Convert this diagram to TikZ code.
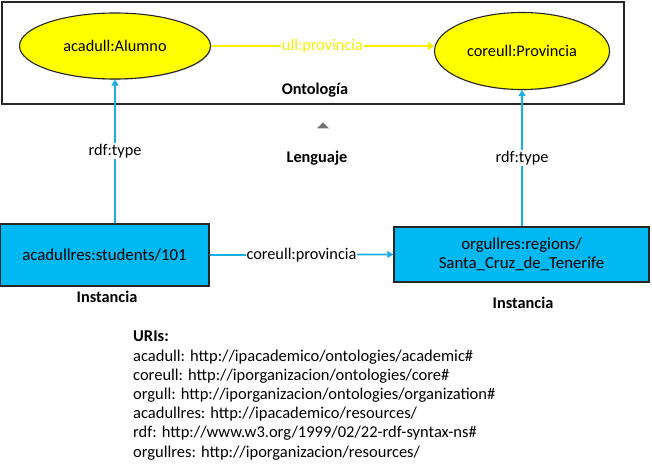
\documentclass[tikz,border=0pt]{standalone}
\usepackage{fontspec}
\setmainfont{Carlito}
\usetikzlibrary{arrows.meta,shapes.geometric,shadows}
\definecolor{cyanbox}{HTML}{00B8F2}
\definecolor{cyanline}{HTML}{1AAEE6}
\definecolor{yel}{HTML}{FFFF00}
\definecolor{yelline}{HTML}{F4F000}
\tikzset{
  classnode/.style={ellipse, draw=black!85, line width=1.1pt, fill=yel, font=\fontsize{16.3}{18}\selectfont,
    drop shadow={shadow xshift=0.8pt, shadow yshift=-0.8pt, opacity=0.45}, inner sep=0pt},
  instnode/.style={rectangle, draw=black!85, line width=1.5pt, fill=cyanbox, font=\fontsize{16.8}{18.5}\selectfont,
    align=center, drop shadow={shadow xshift=0.8pt, shadow yshift=-0.8pt, opacity=0.45}, inner sep=0pt},
  cyanarrow/.style={draw=cyanline, line width=1.7pt, -{Triangle[width=7pt,length=6pt]}},
  yelarrow/.style={draw=yelline, line width=1.6pt, -{Triangle[width=8pt,length=6pt]}},
  edgelabel/.style={fill=white, inner sep=1pt, font=\fontsize{16.3}{18}\selectfont},
  title/.style={font=\bfseries\fontsize{16.3}{18}\selectfont},
  uritext/.style={font=\fontsize{16.5}{19.2}\selectfont, align=left, anchor=north west, inner sep=0pt},
}
\begin{document}
\begin{tikzpicture}[x=1pt,y=-1pt]
\useasboundingbox (0,0) rectangle (652,473);
% ontology frame
\node[draw=black!85, line width=1.6pt, minimum width=622pt, minimum height=102pt, inner sep=0pt,
  drop shadow={shadow xshift=0.8pt, shadow yshift=-0.8pt, opacity=0.4}, fill=white] (onto) at (313,53) {};
\node[classnode, minimum width=191pt, minimum height=66pt] (alumno) at (115,46) {acadull:Alumno};
\node[classnode, minimum width=175pt, minimum height=77pt] (prov) at (522,51) {coreull:Provincia};
\node[title] (ontolabel) at (315,90) {Ontología};
% instances
\node[instnode, minimum width=209pt, minimum height=62pt] (student) at (104.5,255) {acadullres:students/101};
\node[instnode, minimum width=255pt, minimum height=55pt] (region) at (521.5,254.5) {orgullres:regions/\\Santa\_Cruz\_de\_Tenerife};
\node[title] (inst1) at (107,297) {Instancia};
\node[title] (inst2) at (523,303) {Instancia};
% language
\node[isosceles triangle, isosceles triangle apex angle=90, shape border rotate=90, fill=black!55,
  minimum height=6pt, minimum width=11pt, inner sep=0pt] (tri) at (323,126) {};
\node[title] (lang) at (317,158) {Lenguaje};
% connectors
\draw[yelarrow] (alumno.east) -- node[edgelabel, text=yelline] (ullprov) {ull:provincia} (alumno.east -| prov.west);
\draw[cyanarrow] (student.north -| alumno.south) -- node[edgelabel, pos=0.5] (rdf1) {rdf:type} (alumno.south);
\draw[cyanarrow] (region.north -| prov.south) -- node[edgelabel, pos=0.5] (rdf2) {rdf:type} (prov.south);
\draw[cyanarrow] (student.east) -- node[edgelabel] (coreprov) {coreull:provincia} (region.west);
% URIs
\node[uritext] (uris) at (133,331) {\textbf{URIs:}\\
acadull: http://ipacademico/ontologies/academic\#\\
coreull: http://iporganizacion/ontologies/core\#\\
orgull: http://iporganizacion/ontologies/organization\#\\
acadullres: http://ipacademico/resources/\\
rdf: http://www.w3.org/1999/02/22-rdf-syntax-ns\#\\
orgullres: http://iporganizacion/resources/};
\end{tikzpicture}
\end{document}
